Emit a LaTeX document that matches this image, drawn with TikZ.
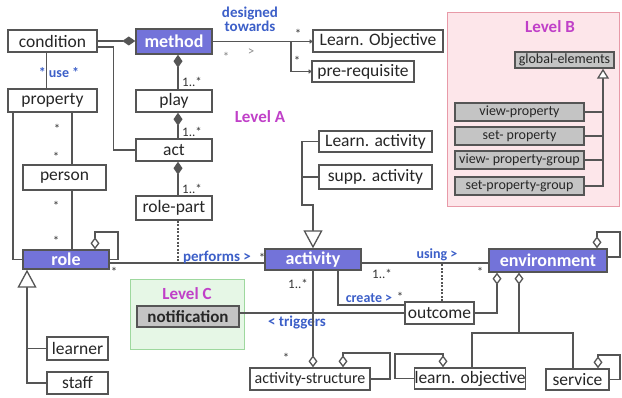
\documentclass[tikz,border=0pt]{standalone}
\usepackage{fontspec}
\setmainfont{Carlito}
\usetikzlibrary{arrows.meta}
\definecolor{umlblue}{HTML}{7373D9}
\definecolor{lblblue}{HTML}{3C5FC8}
\definecolor{lvlmag}{HTML}{C040C8}
\definecolor{pinkfill}{HTML}{FDE6EA}
\definecolor{pinkdraw}{HTML}{E89AA8}
\definecolor{greenfill}{HTML}{E6F7E6}
\definecolor{greendraw}{HTML}{9ED89E}
\definecolor{grayfill}{HTML}{C4C4C4}
\definecolor{linegray}{HTML}{555555}
\begin{document}
\begin{tikzpicture}[x=1pt,y=-1pt,
  box/.style={draw=linegray, line width=1.4pt, fill=white, inner sep=0pt, text=black!85, font=\fontsize{17.5}{18}\selectfont},
  bluebox/.style={box, fill=umlblue, text=white, font=\fontsize{18}{18}\selectfont\bfseries},
  graybox/.style={box, fill=grayfill, font=\fontsize{14}{14}\selectfont},
  conn/.style={draw=linegray, line width=1.3pt},
  blbl/.style={inner sep=0pt, text=lblblue, font=\fontsize{14}{14}\selectfont\bfseries},
  lvl/.style={inner sep=0pt, text=lvlmag, font=\fontsize{17}{17}\selectfont\bfseries},
  mult/.style={inner sep=0pt, text=black!80, font=\fontsize{13}{13}\selectfont},
  fdiam/.tip={Diamond[length=13pt,width=9pt]},
  odiam/.tip={Diamond[length=12pt,width=9pt,fill=white]},
  gentri/.tip={Triangle[length=18pt,width=19pt,fill=white]},
  smalltri/.tip={Triangle[length=10pt,width=12pt,fill=white]},
  smallto/.tip={To[length=3pt,width=4pt]}
]
\useasboundingbox (0,0) rectangle (622,398);

% regions
\node[draw=pinkdraw, fill=pinkfill, line width=1.3pt, anchor=north west, minimum width=172pt, minimum height=194pt, inner sep=0pt] (lvB) at (447,12) {};
\node[draw=greendraw, fill=greenfill, line width=1.3pt, anchor=north west, minimum width=114pt, minimum height=70pt, inner sep=0pt] (lvC) at (130,279) {};

\node[lvl] (lblA) at (260,117) {Level A};
\node[lvl] (lblB) at (550,27) {Level B};
\node[lvl] (lblC) at (187,294) {Level C};

% boxes
\node[box, minimum width=89pt, minimum height=22pt] (condition) at (52.5,41) {condition};
\node[bluebox, minimum width=76pt, minimum height=25pt] (method) at (174,41.5) {method};
\node[box, minimum width=130pt, minimum height=22pt] (lobj) at (378,41) {Learn. Objective};
\node[box, minimum width=102pt, minimum height=21pt] (prereq) at (363,71.5) {pre-requisite};
\node[box, minimum width=89pt, minimum height=23pt] (property) at (52.5,100.5) {property};
\node[box, minimum width=76pt, minimum height=22pt] (play) at (174,101) {play};
\node[box, minimum width=76pt, minimum height=22pt] (act) at (174,150) {act};
\node[box, minimum width=76pt, minimum height=24pt] (rolepart) at (174,208) {role-part};
\node[box, minimum width=83pt, minimum height=25pt] (person) at (64.5,177.5) {person};
\node[bluebox, minimum width=86pt, minimum height=19pt] (role) at (66,259.5) {role};
\node[box, minimum width=113pt, minimum height=21pt] (learnact) at (375.5,141.5) {Learn. activity};
\node[box, minimum width=113pt, minimum height=24pt] (suppact) at (375.5,177) {supp. activity};
\node[bluebox, minimum width=96pt, minimum height=21pt] (activity) at (313,259.5) {activity};
\node[bluebox, minimum width=118pt, minimum height=23pt] (environment) at (548,260.5) {environment};
\node[box, minimum width=69pt, minimum height=22pt] (outcome) at (439.5,313) {outcome};
\node[box, minimum width=120pt, minimum height=22pt, font=\fontsize{16}{16}\selectfont] (actstruct) at (310,379) {activity-structure};
\node[box, minimum width=106pt, minimum height=21pt] (learnobj) at (470,378.5) {learn. objective};
\node[box, minimum width=63pt, minimum height=21pt] (service) at (577.5,379.5) {service};
\node[box, minimum width=61pt, minimum height=23pt] (learner) at (77.5,348.5) {learner};
\node[box, minimum width=61pt, minimum height=22pt] (staff) at (77.5,383) {staff};

\node[graybox, minimum width=99pt, minimum height=16pt] (globalel) at (564.5,60) {global-elements};
\node[graybox, minimum width=129pt, minimum height=18pt] (viewprop) at (519.5,112) {view-property};
\node[graybox, minimum width=129pt, minimum height=18pt] (setprop) at (519.5,136) {set- property};
\node[graybox, minimum width=129pt, minimum height=18pt] (viewpg) at (519.5,160) {view- property-group};
\node[graybox, minimum width=129pt, minimum height=18pt] (setpg) at (519.5,186) {set-property-group};
\node[graybox, minimum width=102pt, minimum height=21pt, font=\fontsize{17}{17}\selectfont\bfseries] (notification) at (188,316.5) {notification};

% method compositions
\draw[conn, -fdiam] (condition.east) -- (condition.east -| method.west);
\draw[conn] ([yshift=-6pt]condition.east) -- ++(16,0) |- (act.west);
\draw[conn] ([xshift=-6pt]condition.south) -- ([xshift=-6pt]condition.south |- property.north);
\node[blbl] (uselbl) at (59,73) {* use *};

\draw[conn, fdiam-] ([xshift=4pt]method.south) -- ([xshift=4pt]play.north);
\draw[conn, fdiam-] ([xshift=4pt]play.south) -- ([xshift=4pt]act.north);
\draw[conn, fdiam-] ([xshift=4pt]act.south) -- ([xshift=4pt]rolepart.north);
\node[mult] (m1) at (192,82) {1..*};
\node[mult] (m2) at (192,132) {1..*};
\node[mult] (m3) at (192,189) {1..*};

% designed towards
\coordinate (br) at (291,41.5);
\draw[conn, -smallto] (method.east) -- (method.east -| lobj.west);
\draw[conn, -smallto] (br) |- (prereq.west);
\node[blbl, align=center, font=\fontsize{15}{14}\selectfont\bfseries] (dt) at (250,19) {designed\\towards};
\node[mult] (s1) at (298,34) {*};
\node[mult] (s2) at (297,61) {*};
\node[mult, text=black!50] (s3) at (226,57) {*};
\node[mult, text=black!45] (s4) at (251,52) {>};

% property / person / role
\draw[conn] ([xshift=-39.5pt]property.south) |- (role.west);
\draw[conn] ([xshift=19.5pt]property.south) -- ([xshift=19.5pt]property.south |- person.north);
\draw[conn] ([xshift=7.5pt]person.south) -- ([xshift=7.5pt]person.south |- role.north);
\node[mult] (s5) at (57,129) {*};
\node[mult] (s6) at (56,157) {*};
\node[mult] (s7) at (56,206) {*};
\node[mult] (s8) at (56,241) {*};
\draw[conn, odiam-] ([xshift=29pt]role.north) |- (118,232) |- (role.east);

% role -> activity
\coordinate (pf) at (178,263);
\draw[conn] ([yshift=-3.5pt]role.east) -- ([yshift=-3.5pt]activity.west);
\draw[conn, dashed, dash pattern=on 2pt off 1.5pt] ([xshift=4pt]rolepart.south) -- (pf);
\node[blbl, font=\fontsize{15}{15}\selectfont\bfseries] (perf) at (217,257) {performs >};
\node[mult] (s9) at (262,258) {*};
\node[mult] (s10) at (114,272) {*};

% activity generalization
\coordinate (gx) at (302,205);
\draw[conn, -gentri] (learnact.west) -| (gx) -| (activity.north);
\draw[conn] (suppact.west) -- (suppact.west -| gx);

% activity -> environment
\coordinate (ul) at (442,263);
\draw[conn] ([yshift=-3.5pt]activity.east) -- ([yshift=-3.5pt]activity.east -| environment.west);
\node[blbl] (using) at (437,255) {using >};
\node[mult] (m4) at (382,274) {1..*};
\node[mult] (s11) at (480,272) {*};
\draw[conn, dashed, dash pattern=on 2pt off 1.5pt] ([xshift=2.5pt]outcome.north) -- (ul);

% activity -> outcome
\draw[conn] ([xshift=25pt]activity.south) |- ([yshift=8pt]outcome.west);
\node[blbl] (create) at (369,298) {create >};
\node[mult] (s12) at (400,297) {*};

% notification -> outcome
\draw[conn] (notification.east |- outcome.west) -- (outcome.west);
\node[blbl, font=\fontsize{15}{15}\selectfont\bfseries] (trig) at (297,323) {< triggers};

% activity -> activity-structure
\draw[conn, -odiam] (activity.south) -- (activity.south |- actstruct.north);
\node[mult] (m5) at (298,284) {1..*};
\node[mult] (s13) at (286,358) {*};
\draw[conn, odiam-] ([xshift=33pt]actstruct.north) |- (390,353) |- (actstruct.east);
\draw[conn, odiam-] ([xshift=-27pt]learnobj.north) |- (395,354) |- (learnobj.west);

% environment
\draw[conn, odiam-] ([xshift=49pt]environment.north) |- (620,232) |- ([yshift=3.5pt]environment.east);
\draw[conn, odiam-] ([xshift=-51pt]environment.south) |- (outcome.east);
\coordinate (ej) at (519,333);
\draw[conn, odiam-] ([xshift=-29pt]environment.south) -- (ej);
\draw[conn] (ej) -| ([xshift=2pt]learnobj.north);
\draw[conn] (ej) -| ([xshift=-4.5pt]service.north);
\draw[conn, odiam-] ([xshift=20.5pt]service.north) |- (620,355) |- (service.east);

% role generalization
\coordinate (gl) at (27,300);
\draw[conn, -gentri] (staff.west) -| ([xshift=-39pt]role.south);
\draw[conn] (learner.west) -- (learner.west -| gl);

% Level B generalization
\coordinate (gb) at (603,100);
\draw[conn, -smalltri] (setpg.east) -| ([xshift=38.5pt]globalel.south);
\draw[conn] (viewprop.east) -- (viewprop.east -| gb);
\draw[conn] (setprop.east) -- (setprop.east -| gb);
\draw[conn] (viewpg.east) -- (viewpg.east -| gb);
\end{tikzpicture}
\end{document}
